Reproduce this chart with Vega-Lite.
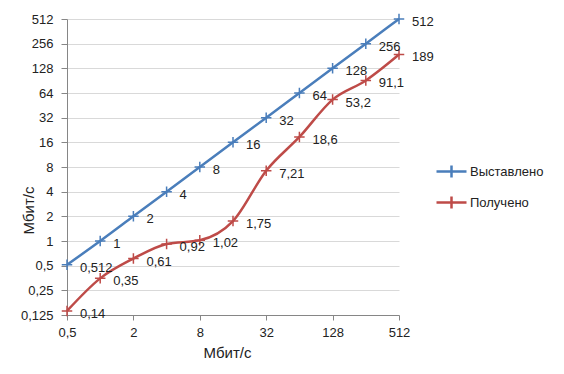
{
  "$schema": "https://vega.github.io/schema/vega-lite/v6.json",
  "width": 332,
  "height": 296,
  "autosize": {"type": "none"},
  "padding": {"left": 67, "top": 19, "right": 165, "bottom": 59},
  "background": "white",
  "config": {
    "view": {"stroke": null},
    "font": "Liberation Sans",
    "axis": {"labelFont": "Liberation Sans", "titleFont": "Liberation Sans", "labelColor": "#222", "titleColor": "#222"}
  },
  "data": {
    "values": [
      {"x": 0.5, "y": 0.512, "s": "Выставлено", "lab": "0,512"},
      {"x": 1, "y": 1, "s": "Выставлено", "lab": "1"},
      {"x": 2, "y": 2, "s": "Выставлено", "lab": "2"},
      {"x": 4, "y": 4, "s": "Выставлено", "lab": "4"},
      {"x": 8, "y": 8, "s": "Выставлено", "lab": "8"},
      {"x": 16, "y": 16, "s": "Выставлено", "lab": "16"},
      {"x": 32, "y": 32, "s": "Выставлено", "lab": "32"},
      {"x": 64, "y": 64, "s": "Выставлено", "lab": "64"},
      {"x": 128, "y": 128, "s": "Выставлено", "lab": "128"},
      {"x": 256, "y": 256, "s": "Выставлено", "lab": "256"},
      {"x": 512, "y": 512, "s": "Выставлено", "lab": "512"},
      {"x": 0.5, "y": 0.14, "s": "Получено", "lab": "0,14"},
      {"x": 1, "y": 0.35, "s": "Получено", "lab": "0,35"},
      {"x": 2, "y": 0.61, "s": "Получено", "lab": "0,61"},
      {"x": 4, "y": 0.92, "s": "Получено", "lab": "0,92"},
      {"x": 8, "y": 1.02, "s": "Получено", "lab": "1,02"},
      {"x": 16, "y": 1.75, "s": "Получено", "lab": "1,75"},
      {"x": 32, "y": 7.21, "s": "Получено", "lab": "7,21"},
      {"x": 64, "y": 18.6, "s": "Получено", "lab": "18,6"},
      {"x": 128, "y": 53.2, "s": "Получено", "lab": "53,2"},
      {"x": 256, "y": 91.1, "s": "Получено", "lab": "91,1"},
      {"x": 512, "y": 189, "s": "Получено", "lab": "189"}
    ]
  },
  "encoding": {
    "x": {
      "field": "x", "type": "quantitative",
      "scale": {"type": "log", "base": 2, "domain": [0.5, 512], "nice": false},
      "axis": {
        "title": "Мбит/с", "titleFontSize": 15, "titleFontWeight": "normal", "titlePadding": 6, "titleX": 160,
        "values": [0.5, 2, 8, 32, 128, 512],
        "labelExpr": "replace(toString(datum.value), '.', ',')",
        "labelFontSize": 13, "labelPadding": 6, "labelFlush": false,
        "grid": false, "tickSize": 5, "tickColor": "#868686", "domainColor": "#868686"
      }
    },
    "y": {
      "field": "y", "type": "quantitative",
      "scale": {"type": "log", "base": 2, "domain": [0.125, 512], "nice": false},
      "axis": {
        "title": "Мбит/с", "titleFontSize": 15, "titleFontWeight": "normal",
        "titleX": -39, "titleY": 191, "titleAlign": "center", "titleAngle": -90, "titleBaseline": "middle",
        "values": [0.125, 0.25, 0.5, 1, 2, 4, 8, 16, 32, 64, 128, 256, 512],
        "labelExpr": "replace(toString(datum.value), '.', ',')",
        "labelFontSize": 13, "labelPadding": 8,
        "grid": true, "gridColor": "#d9d9d9", "tickSize": 6, "tickColor": "#868686", "domainColor": "#868686"
      }
    },
    "color": {
      "field": "s", "type": "nominal",
      "scale": {"domain": ["Выставлено", "Получено"], "range": ["#4a7ebb", "#be4b48"]},
      "legend": {
        "title": null, "orient": "none", "legendX": 368, "legendY": 136,
        "labelFontSize": 13, "labelColor": "#222", "rowPadding": 3,
        "symbolType": "M-1,0H1M0,-0.4V0.4", "symbolSize": 900, "symbolStrokeWidth": 2.5,
        "labelOffset": 2
      }
    }
  },
  "layer": [
    {
      "mark": {"type": "line", "strokeWidth": 2.5, "interpolate": "monotone"}
    },
    {
      "mark": {"type": "point", "shape": "M-1,0H1M0,-1V1", "filled": false, "size": 110, "strokeWidth": 1.5, "opacity": 1}
    },
    {
      "mark": {"type": "text", "align": "left", "baseline": "middle", "dx": 13, "dy": 3, "fontSize": 13},
      "encoding": {"text": {"field": "lab"}, "color": {"value": "#222"}}
    }
  ]
}
